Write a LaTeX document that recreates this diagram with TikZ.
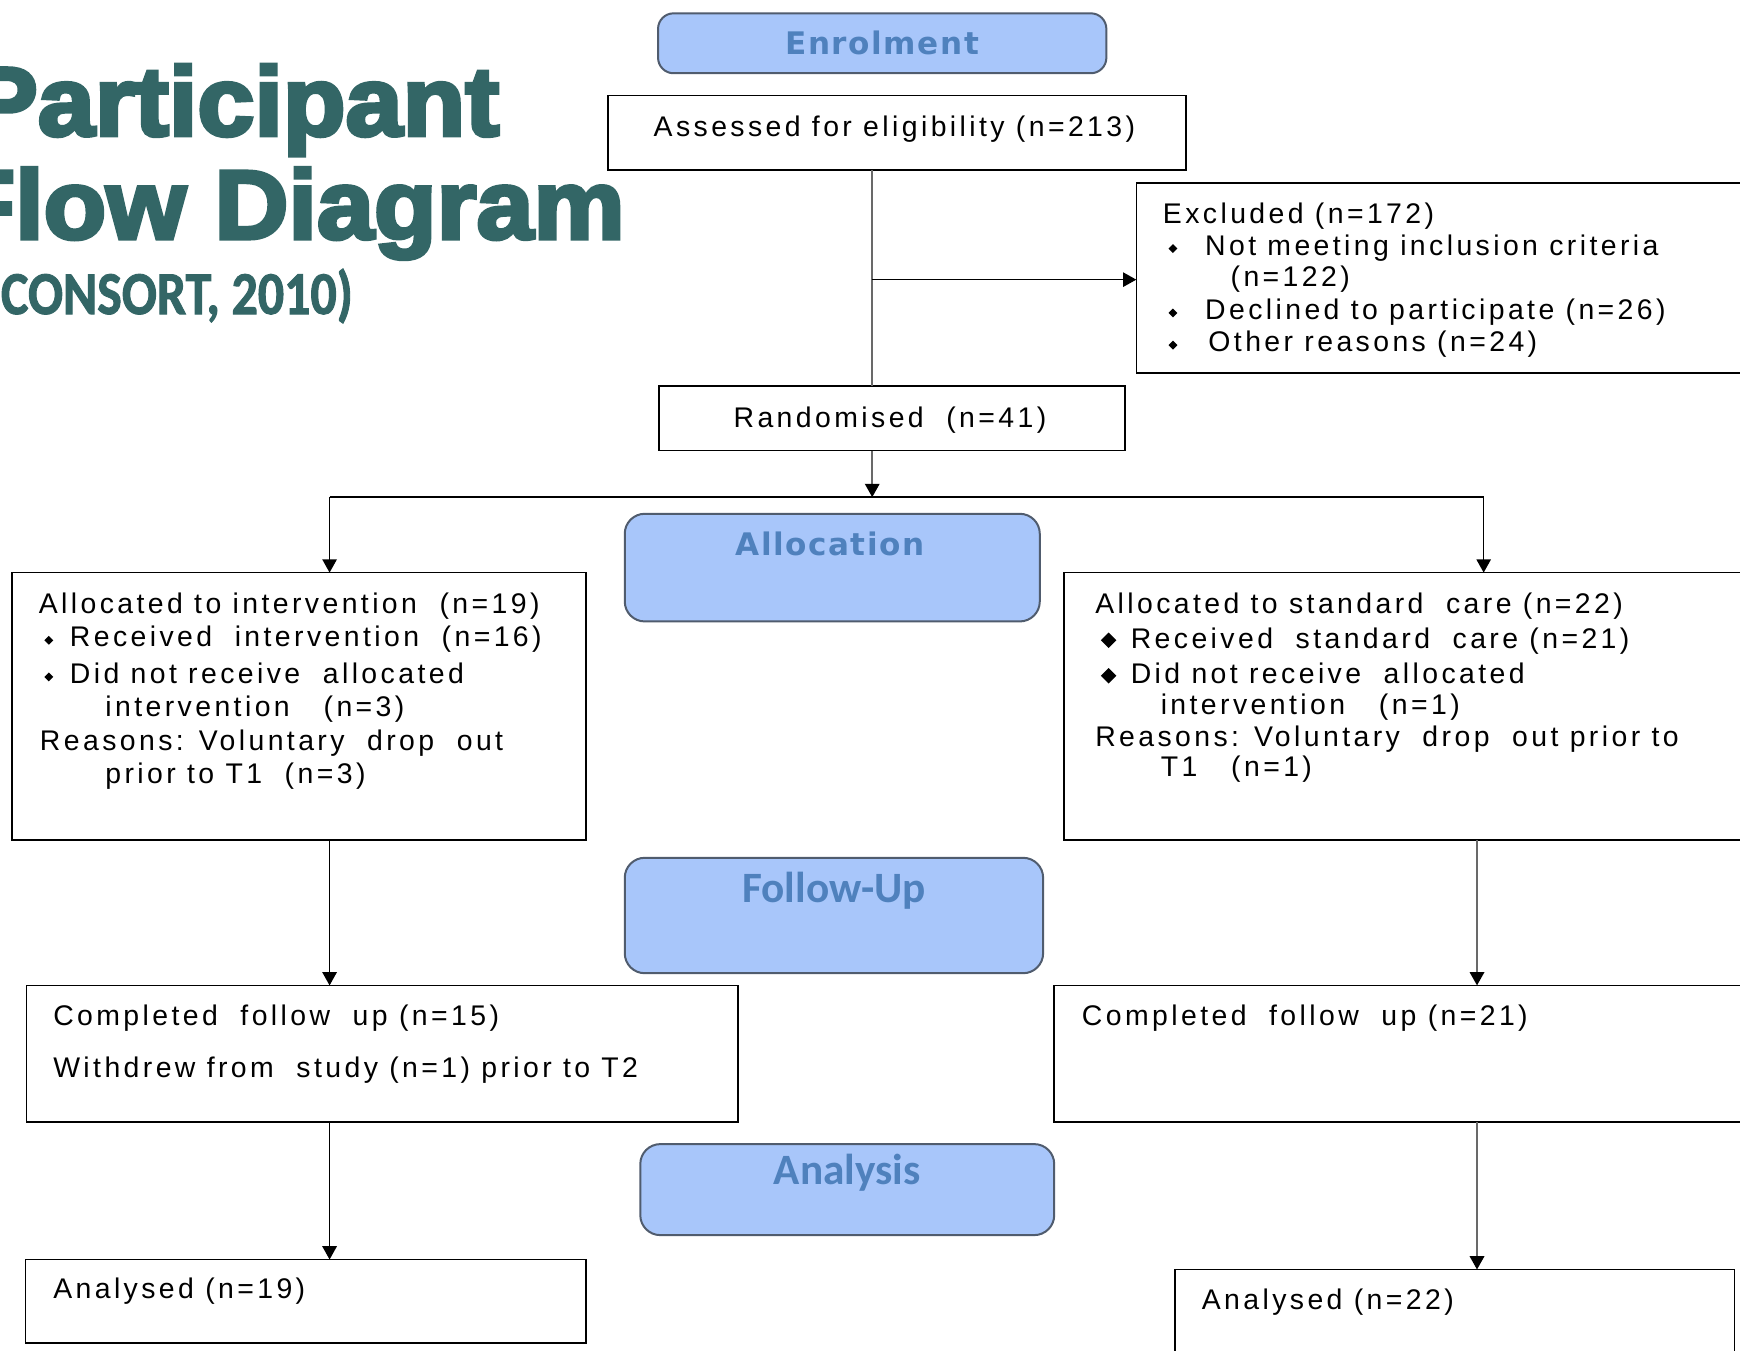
\documentclass[tikz,border=0pt]{standalone}
\usepackage{fontspec}
\setmainfont{Liberation Sans}
\newfontfamily\bodyf[LetterSpace=12]{Liberation Sans}
\newfontfamily\hdrf[LetterSpace=5]{DejaVu Sans}
\newfontfamily\calf{Carlito}
\newfontfamily\consf[FakeStretch=0.85,BoldFeatures={FakeBold=1.5}]{Carlito}
\newfontfamily\titlef[FakeStretch=1.05,BoldFeatures={FakeBold=4}]{Liberation Sans}
\usetikzlibrary{arrows.meta,shapes.geometric}
\definecolor{teal1}{RGB}{51,102,102}
\definecolor{hdrfill}{RGB}{168,198,250}
\definecolor{hdrtext}{RGB}{79,129,189}
\definecolor{hdrline}{RGB}{80,92,110}
\definecolor{lgray}{RGB}{105,105,105}
\begin{document}
\begin{tikzpicture}[x=0.5pt,y=0.5pt,
  every node/.style={inner sep=0pt, outer sep=0pt},
  box/.style={draw=black, line width=0.75pt, fill=white, anchor=north west, rectangle},
  hdr/.style={draw=hdrline, line width=0.9pt, fill=hdrfill, rounded corners=7pt, anchor=north west, rectangle},
  hdrtxt/.style={font=\hdrf\bfseries\fontsize{14}{16}\selectfont, text=hdrtext},
  caltxt/.style={font=\calf\bfseries\fontsize{19.5}{22}\selectfont, text=hdrtext},
  txt/.style={font=\bodyf\fontsize{12.8}{15}\selectfont, anchor=base west},
  bul/.style={diamond, fill=black, minimum size=4pt, inner sep=0pt},
  bigbul/.style={diamond, fill=black, minimum size=7pt, inner sep=0pt},
  conn/.style={line width=0.7pt, draw=black},
  gconn/.style={line width=1.1pt, draw=lgray},
  arr/.style={conn, -{Triangle[length=6pt,width=6.5pt,color=black]}},
  garr/.style={line width=0.9pt, draw=lgray, -{Triangle[length=6pt,width=6.5pt,color=black]}},
  ttl/.style={font=\titlef\bfseries\fontsize{44}{48}\selectfont, text=teal1, anchor=base east},
]
\useasboundingbox (0,0) rectangle (1568,-1217);
\fill[white] (0,0) rectangle (1568,-1217);

% title
\node[ttl] (t1) at (450,-122) {Participant};
\node[ttl] (t2) at (563,-215) {Flow Diagram};
\node[font=\consf\bfseries\fontsize{27.5}{30}\selectfont, text=teal1, anchor=base east] (t3) at (318,-283) {(CONSORT, 2010)};

% header boxes
\node[hdr, minimum width=202pt, minimum height=27pt] (enrol) at (593,-12) {};
\node[hdr, rounded corners=9pt, minimum width=187pt, minimum height=48.5pt] (allochd) at (563,-463) {};
\node[hdr, rounded corners=9pt, minimum width=188.5pt, minimum height=52pt] (followhd) at (563,-773) {};
\node[hdr, rounded corners=9pt, minimum width=186.5pt, minimum height=41pt] (analhd) at (577,-1031) {};
\node[hdrtxt] (enroltxt) at ([yshift=-13.5pt]enrol.north) {Enrolment};
\node[hdrtxt] (alloctxt) at ([yshift=-13.5pt,xshift=-1pt]allochd.north) {Allocation};
\node[caltxt] (followtxt) at ([yshift=-15pt]followhd.north) {Follow-Up};
\node[caltxt] (analtxt) at ([yshift=-13pt]analhd.north) {Analysis};

% boxes
\node[box, minimum width=260.5pt, minimum height=33.5pt] (assess) at (548,-86) {};
\node[box, minimum width=288pt, minimum height=85.5pt] (excl) at (1024,-165) {};
\node[box, minimum width=210pt, minimum height=29pt] (rand) at (594,-348) {};
\node[box, minimum width=258.5pt, minimum height=120.5pt] (lalloc) at (11,-516) {};
\node[box, minimum width=320.5pt, minimum height=120.5pt] (ralloc) at (959,-516) {};
\node[box, minimum width=320.5pt, minimum height=61.5pt] (lfollow) at (24,-888) {};
\node[box, minimum width=325pt, minimum height=61.5pt] (rfollow) at (950,-888) {};
\node[box, minimum width=252.5pt, minimum height=37.5pt] (lanal) at (23,-1135) {};
\node[box, minimum width=252pt, minimum height=50pt] (ranal) at (1059,-1144) {};

% texts
\node[txt, anchor=base] (assesstxt) at (806,-123) {Assessed for eligibility (n=213)};
\node[txt, anchor=base] (randtxt) at (802,-385) {Randomised~~(n=41)};

\node[txt] (ex0) at (1048,-201) {Excluded (n=172)};
\node[bul] (exb1) at (1057,-224) {};
\node[txt] (ex1) at (1086,-230) {Not meeting inclusion criteria};
\node[txt] (ex2) at (1109,-258) {(n=122)};
\node[bul] (exb2) at (1057,-282) {};
\node[txt] (ex3) at (1086,-288) {Declined to participate (n=26)};
\node[bul] (exb3) at (1057,-311) {};
\node[txt] (ex4) at (1089,-317) {Other reasons (n=24)};

\node[txt] (la0) at (35,-553) {Allocated to intervention~~(n=19)};
\node[bul] (lab1) at (44,-577) {};
\node[txt] (la1) at (63,-583) {Received~~intervention~~(n=16)};
\node[bul] (lab2) at (44,-610) {};
\node[txt] (la2) at (63,-616) {Did not receive~~allocated};
\node[txt] (la3) at (95,-646) {intervention~~~(n=3)};
\node[txt] (la4) at (36,-676) {Reasons: Voluntary~~drop~~out};
\node[txt] (la5) at (95,-706) {prior to T1~~(n=3)};

\node[txt] (ra0) at (987,-553) {Allocated to standard~~care (n=22)};
\node[bigbul] (rab1) at (999,-577) {};
\node[txt] (ra1) at (1019,-584) {Received~~standard~~care (n=21)};
\node[bigbul] (rab2) at (999,-609) {};
\node[txt] (ra2) at (1019,-616) {Did not receive~~allocated};
\node[txt] (ra3) at (1046,-644) {intervention~~~(n=1)};
\node[txt] (ra4) at (987,-673) {Reasons: Voluntary~~drop~~out prior to};
\node[txt] (ra5) at (1046,-700) {T1~~~(n=1)};

\node[txt] (lf0) at (48,-924) {Completed~~follow~~up (n=15)};
\node[txt] (lf1) at (48,-971) {Withdrew from~~study (n=1) prior to T2};
\node[txt] (rf0) at (975,-924) {Completed~~follow~~up (n=21)};
\node[txt] (lan) at (48,-1170) {Analysed (n=19)};
\node[txt] (ran) at (1083,-1180) {Analysed (n=22)};

% connectors
\coordinate (j1) at (786,-252);
\coordinate (split) at (786,-448);
\coordinate (lsplit) at (297,-448);
\coordinate (rsplit) at (1337,-448);
\coordinate (lcol) at (297,0);
\coordinate (rcol) at (1331,0);
\draw[gconn] (assess.south -| j1) -- (rand.north -| j1);
\draw[arr] (j1) -- (excl.west |- j1);
\draw[garr] (rand.south -| split) -- (split);
\draw[conn] (lsplit) -- (rsplit);
\draw[arr] (lsplit) -- (lalloc.north -| lsplit);
\draw[arr] (rsplit) -- (ralloc.north -| rsplit);
\draw[arr] (lalloc.south -| lcol) -- (lfollow.north -| lcol);
\draw[arr] (lfollow.south -| lcol) -- (lanal.north -| lcol);
\draw[garr] (ralloc.south -| rcol) -- (rfollow.north -| rcol);
\draw[garr] (rfollow.south -| rcol) -- (ranal.north -| rcol);
\end{tikzpicture}
\end{document}
